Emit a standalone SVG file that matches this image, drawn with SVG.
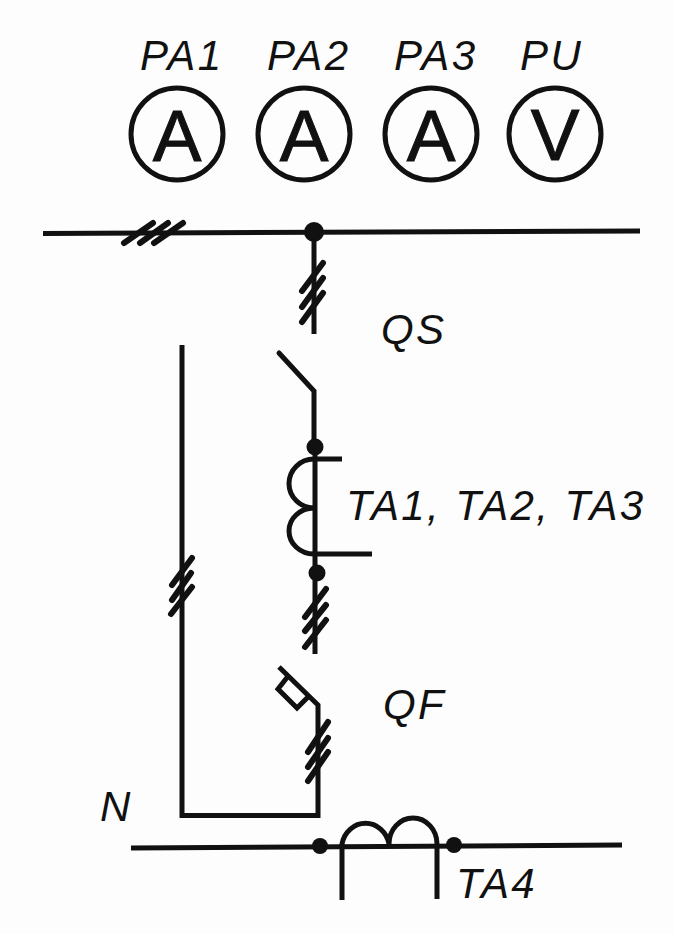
<svg xmlns="http://www.w3.org/2000/svg" width="674" height="934" viewBox="0 0 674 934">
<style>
.w{fill:none;stroke:#111;stroke-width:5}
.t{stroke-width:6;stroke-linecap:round}
.d{fill:#111}
.c{fill:none;stroke:#111;stroke-width:5}
text{font-family:"Liberation Sans",Arial,sans-serif;font-style:italic;fill:#111;font-size:42px;letter-spacing:2.400px}
.m{font-style:normal;font-size:73px;text-anchor:middle;letter-spacing:0;stroke:#111;stroke-width:1}
</style>
<rect width="674" height="934" fill="#fdfdfd"/>
<g id="connectors">
<path class="w" d="M43 233.500L640 231"/>
<path class="w t" d="M124 243L153 223M140 243L168 223M154 243L183 223"/>
<path class="w" d="M314 233V334"/>
<path class="w t" d="M302 291L323 263M302 307L323 278M302 322L323 293"/>
<path class="w" d="M182 345V815.500H318V705L279 667"/>
<path class="w" style="stroke-linecap:round" d="M279 353L314 391V447"/>
<path class="w" d="M315 447V654"/>
<path class="w" d="M342 459H314A25 24.500 0 0 0 314 508A25 23 0 0 0 314 554H372"/>
<path class="w t" d="M305 617L326 589M305 631L326 605M305 647L326 620"/>
<path class="w t" d="M172 585L192 558M172 600L191 573M171 614L192 587"/>
<path class="w t" d="M308 752L328 722M308 767L328 738M308 781L328 752"/>
<path class="w" d="M289 675L278 689L297 708L309 696"/>
<path class="w" d="M131 848L622 845"/>
<path class="w" d="M342 900V844A24 26 0 0 1 389 844A24 26 0 0 1 437 844V899"/>
</g>
<g id="PA1"><circle class="c" cx="177" cy="134" r="46"/><text class="m" x="177" y="161">A</text><text x="140" y="70">PA1</text></g>
<g id="PA2"><circle class="c" cx="304" cy="134" r="46"/><text class="m" x="304" y="161">A</text><text x="267" y="70">PA2</text></g>
<g id="PA3"><circle class="c" cx="431" cy="134" r="46"/><text class="m" x="431" y="161">A</text><text x="394" y="70">PA3</text></g>
<g id="PU"><circle class="c" cx="555" cy="134" r="46"/><text class="m" x="555" y="160">V</text><text x="520" y="70">PU</text></g>
<g id="junctions">
<circle class="d" cx="314" cy="232" r="10"/>
<circle class="d" cx="315" cy="447" r="8.500"/>
<circle class="d" cx="317" cy="573" r="8.500"/>
<circle class="d" cx="320" cy="846" r="8"/>
<circle class="d" cx="454" cy="845" r="8"/>
</g>
<g id="QS"><text x="381" y="344">QS</text></g>
<g id="TA123"><text x="346" y="520">TA1, TA2, TA3</text></g>
<g id="QF"><text x="383" y="719">QF</text></g>
<g id="N"><text x="100" y="821">N</text></g>
<g id="TA4"><text x="456" y="898">TA4</text></g>
</svg>
